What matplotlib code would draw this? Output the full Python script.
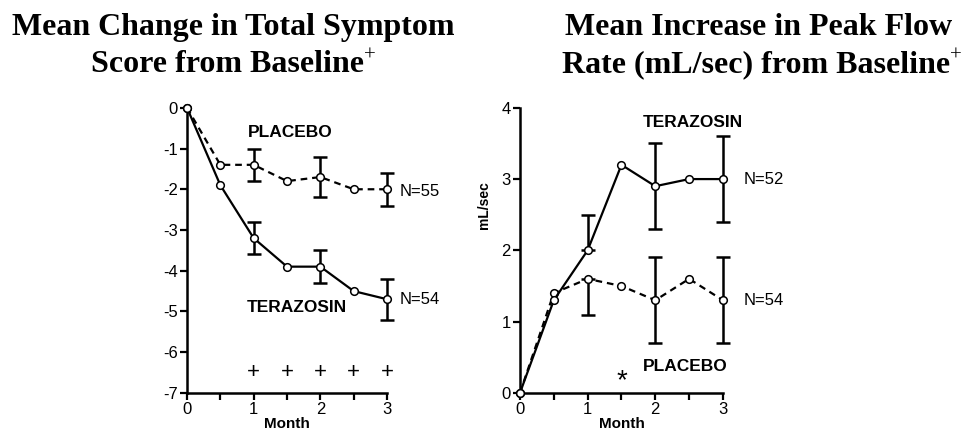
import matplotlib
matplotlib.use("Agg")
import matplotlib.pyplot as plt
from matplotlib.ticker import MultipleLocator

plt.rcParams['font.family'] = ['Liberation Sans', 'DejaVu Sans']
plt.rcParams['axes.unicode_minus'] = False

# Symptom score panel
months = [0, 0.5, 1, 1.5, 2, 2.5, 3]
sym_placebo = [0, -1.4, -1.4, -1.8, -1.7, -2.0, -2.0]
sym_tera = [0, -1.9, -3.2, -3.9, -3.9, -4.5, -4.7]
sym_err_months = [1, 2, 3]
sym_placebo_err_mean = [-1.4, -1.7, -2.0]
sym_placebo_err = [0.4, 0.5, 0.4]
sym_tera_err_mean = [-3.2, -3.9, -4.7]
sym_tera_err = [0.4, 0.4, 0.5]
sym_sig_months = [1, 1.5, 2, 2.5, 3]

# Peak flow panel
flow_placebo = [0, 1.4, 1.6, 1.5, 1.3, 1.6, 1.3]
flow_tera = [0, 1.3, 2.0, 3.2, 2.9, 3.0, 3.0]
flow_err_months = [1, 2, 3]
flow_tera_err_mean = [2.0, 2.9, 3.0]
flow_tera_err_lo = [0.0, 0.6, 0.6]
flow_tera_err_hi = [0.5, 0.6, 0.6]
flow_placebo_err_mean = [1.6, 1.3, 1.3]
flow_placebo_err_lo = [0.5, 0.6, 0.6]
flow_placebo_err_hi = [0.0, 0.6, 0.6]

fig = plt.figure(figsize=(9.62, 4.40), dpi=100)
ax1 = fig.add_axes([0.1944, 0.107, 0.2079, 0.648])
ax2 = fig.add_axes([0.5405, 0.107, 0.2110, 0.648])

line_kw = dict(color='black', lw=1.6, marker='o', ms=5.5, mfc='white',
               mec='black', mew=1.1, clip_on=False, zorder=3)
err_kw = dict(fmt='none', ecolor='black', elinewidth=1.8, capsize=5,
              capthick=1.8, zorder=2)


def draw_err(ax, x, y, yerr):
    eb = ax.errorbar(x, y, yerr=yerr, **err_kw)
    for art in eb.lines[1] + eb.lines[2]:
        art.set_clip_on(False)


def style_axes(ax):
    for s in ['top', 'right']:
        ax.spines[s].set_visible(False)
    for s in ['left', 'bottom']:
        ax.spines[s].set_linewidth(1.8)
    ax.xaxis.set_major_locator(MultipleLocator(1))
    ax.xaxis.set_minor_locator(MultipleLocator(0.5))
    ax.tick_params(which='both', direction='out', length=5, width=1.6,
                   labelsize=12, pad=1.5)
    ax.set_xlabel('Month', fontsize=11, fontweight='bold', labelpad=0)


# left panel
ax1.plot(months, sym_placebo, ls=(0, (3, 2.2)), **line_kw)
ax1.plot(months, sym_tera, ls='-', **line_kw)
draw_err(ax1, sym_err_months, sym_placebo_err_mean, sym_placebo_err)
draw_err(ax1, sym_err_months, sym_tera_err_mean, sym_tera_err)
ax1.set_xlim(0, 3)
ax1.set_ylim(-7, 0)
ax1.yaxis.set_major_locator(MultipleLocator(1))
style_axes(ax1)
for m in sym_sig_months:
    ax1.text(m, -6.5, '+', ha='center', va='center', fontsize=16)
ax1.text(1.55, -0.6, 'PLACEBO', ha='center', va='center', fontsize=12.5, fontweight='bold')
ax1.text(0.9, -4.9, 'TERAZOSIN', ha='left', va='center', fontsize=12.5, fontweight='bold')
ax1.text(3.19, -2.05, 'N=55', ha='left', va='center', fontsize=12)
ax1.text(3.19, -4.7, 'N=54', ha='left', va='center', fontsize=12)

# right panel
ax2.plot(months, flow_placebo, ls=(0, (3, 2.2)), **line_kw)
ax2.plot(months, flow_tera, ls='-', **line_kw)
draw_err(ax2, flow_err_months, flow_tera_err_mean,
         [flow_tera_err_lo, flow_tera_err_hi])
draw_err(ax2, flow_err_months, flow_placebo_err_mean,
         [flow_placebo_err_lo, flow_placebo_err_hi])
ax2.set_xlim(0, 3)
ax2.set_ylim(0, 4)
ax2.yaxis.set_major_locator(MultipleLocator(1))
style_axes(ax2)
ax2.text(-0.175, 0.66, 'mL/sec', transform=ax2.transAxes, rotation=90,
         ha='center', va='center', fontsize=10, fontweight='bold')
ax2.text(1.5, 0.17, '*', ha='center', va='center', fontsize=20)
ax2.text(1.82, 0.37, 'PLACEBO', ha='left', va='center', fontsize=12.5, fontweight='bold')
ax2.text(1.82, 3.8, 'TERAZOSIN', ha='left', va='center', fontsize=12.5, fontweight='bold')
ax2.text(3.31, 3.0, 'N=52', ha='left', va='center', fontsize=12)
ax2.text(3.31, 1.3, 'N=54', ha='left', va='center', fontsize=12)

# titles, with a small raised "+" after "Baseline"
tkw = dict(va='baseline', fontsize=23, fontweight='bold',
           family=['Liberation Serif'])
renderer = fig.canvas.get_renderer()
fig.text(0.242, 0.920, 'Mean Change in Total Symptom', ha='center', **tkw)
fig.text(0.789, 0.920, 'Mean Increase in Peak Flow', ha='center', **tkw)
for cx, label in [(0.236, 'Score from Baseline'),
                  (0.786, 'Rate (mL/sec) from Baseline')]:
    t = fig.text(cx, 0.836, label, ha='center', **tkw)
    bb = t.get_window_extent(renderer)
    fig.text(bb.x1 / fig.bbox.width, 0.862, '+', ha='left',
             va='baseline', fontsize=15, family=['Liberation Serif'])

fig.savefig('out.png', dpi=100)
